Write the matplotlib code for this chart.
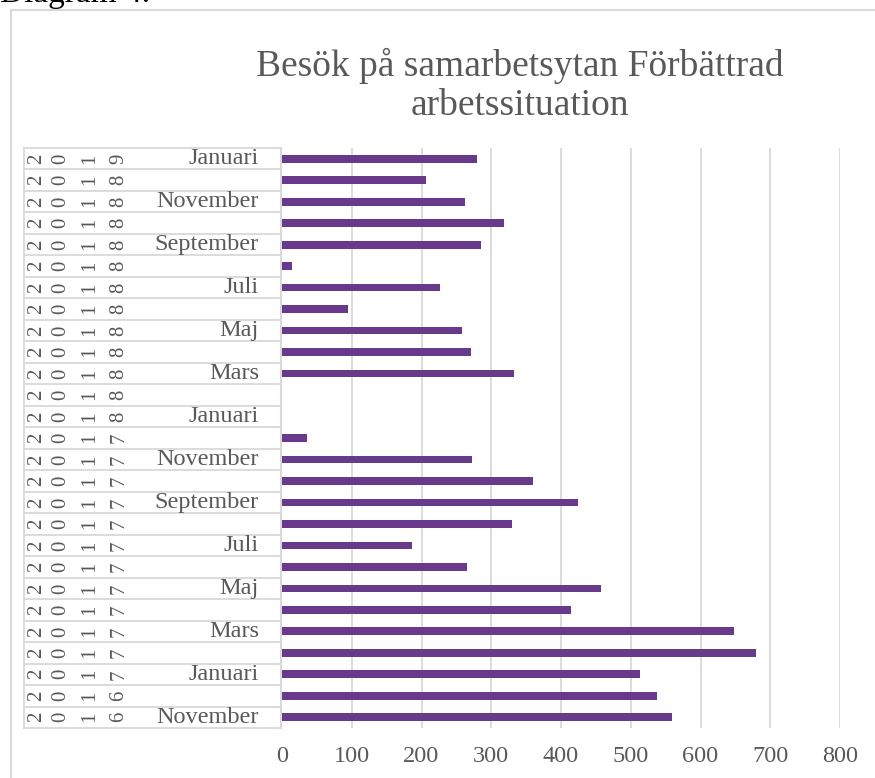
import matplotlib.pyplot as plt
import matplotlib.transforms as mtransforms
from matplotlib.patches import Rectangle

# Data (top row first, as in the chart)
years = ["2019", "2018", "2018", "2018", "2018", "2018", "2018", "2018", "2018",
         "2018", "2018", "2018", "2018", "2017", "2017", "2017", "2017", "2017",
         "2017", "2017", "2017", "2017", "2017", "2017", "2017", "2016", "2016"]
months = ["Januari", "", "November", "", "September", "", "Juli", "", "Maj",
          "", "Mars", "", "Januari", "", "November", "", "September", "",
          "Juli", "", "Maj", "", "Mars", "", "Januari", "", "November"]
visits = [280, 206, 262, 318, 285, 14, 227, 95, 258, 271, 333, 0, 0, 36,
          272, 360, 425, 330, 186, 265, 458, 414, 648, 679, 513, 538, 559]
xticks = [0, 100, 200, 300, 400, 500, 600, 700, 800]

W, H = 875, 778
fig = plt.figure(figsize=(W / 100, H / 100), dpi=100)
serif = ["Liberation Serif", "DejaVu Serif"]
grey = "#595959"
line_col = "#d9d9d9"

# outer chart border
fig.patches.append(Rectangle((11 / W, -0.1), 1.2, 1.1 - 10 / H, transform=fig.transFigure,
                             fill=False, edgecolor=line_col, linewidth=1.5))

fig.text(0 / W, 1 - 2 / H, "Diagram 4.", fontsize=24, family=serif, color="black",
         ha="left", va="baseline")

fig.text(520 / W, 1 - 66 / H, "Besök på samarbetsytan Förbättrad", fontsize=27,
         family=serif, color=grey, ha="center", va="center")
fig.text(520 / W, 1 - 106 / H, "arbetssituation", fontsize=27,
         family=serif, color=grey, ha="center", va="center")

ax = fig.add_axes([282 / W, 50 / H, (840 - 282) / W, 580 / H])

n = len(visits)
pos = [n - 1 - i for i in range(n)]
ax.barh(pos, visits, height=0.36, color="#693a8b", linewidth=0, zorder=3)

ax.set_xlim(0, 800)
ax.set_ylim(-0.5, n - 0.5)
ax.set_xticks(xticks)
ax.set_xticklabels([str(t) for t in xticks], family=serif, fontsize=17.5, color=grey)
ax.tick_params(axis="x", length=0, pad=13)
ax.set_yticks([])
for t in xticks[1:]:
    ax.axvline(t, color=line_col, linewidth=1.3, zorder=1)
for s in ax.spines.values():
    s.set_visible(False)

# category "table" on the left
tr = mtransforms.blended_transform_factory(fig.transFigure, ax.transData)
for k in range(n + 1):
    ax.plot([24 / W, 281 / W], [k - 0.5, k - 0.5], transform=tr, color=line_col,
            linewidth=1.3, clip_on=False)
ax.plot([24 / W, 24 / W], [-0.5, n - 0.5], transform=tr, color=line_col, linewidth=1.3, clip_on=False)
ax.plot([281 / W, 281 / W], [-0.5, n - 0.5], transform=tr, color=line_col, linewidth=1.5, clip_on=False)

digit_x = [37, 61, 90, 119]
for p, yr, mo in zip(pos, years, months):
    for dx, ch in zip(digit_x, yr):
        ax.text(dx / W, p, ch, transform=tr, rotation=90, ha="center", va="center",
                family=serif, fontsize=15, color=grey)
    if mo:
        ax.text(259 / W, p, mo, transform=tr, ha="right", va="center",
                family=serif, fontsize=17.5, color=grey)

fig.savefig("out.png", dpi=100)
